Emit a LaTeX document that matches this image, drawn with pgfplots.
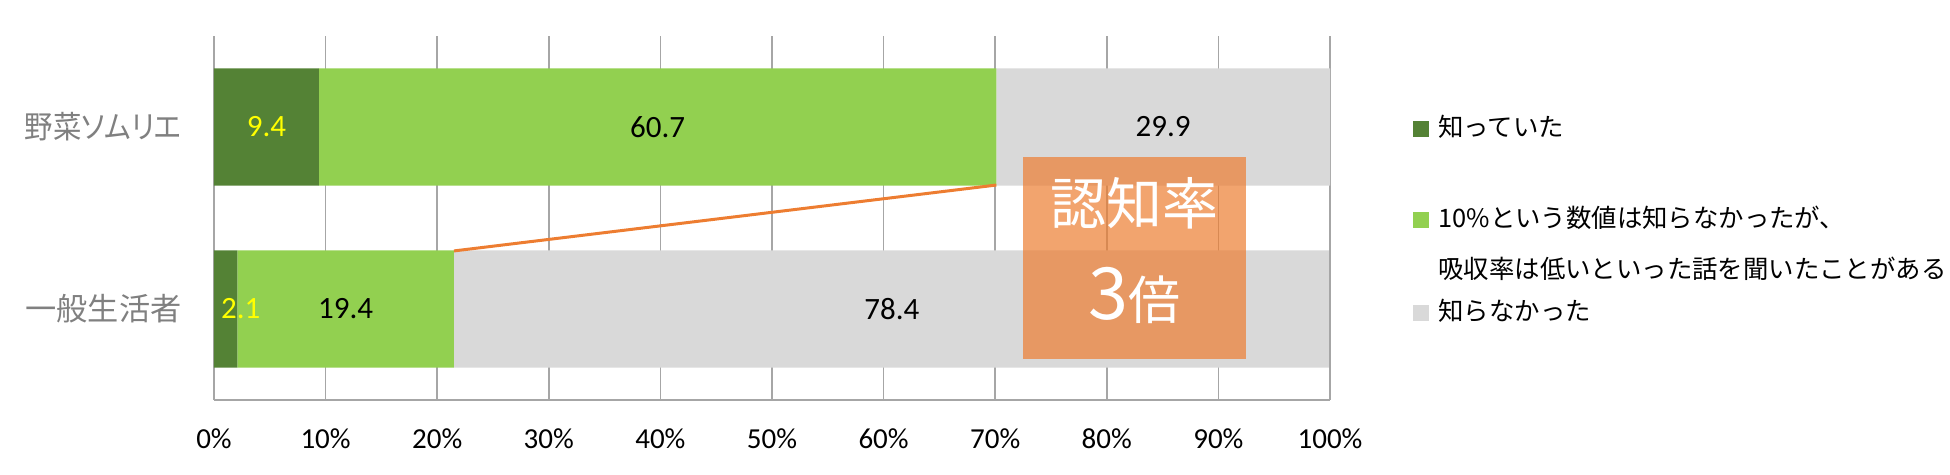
\documentclass[border=0pt]{standalone}
\usepackage{fontspec}
\usepackage{graphicx}
\usepackage{pgfplots}
\pgfplotsset{compat=1.18}
\setmainfont{Carlito}
\newfontfamily\jp{Noto Sans CJK JP}
\newfontfamily\jpp[RawFeature=+palt]{Noto Sans CJK JP}
\definecolor{dgreen}{HTML}{548235}
\definecolor{lgreen}{HTML}{92D050}
\definecolor{lgray}{HTML}{D9D9D9}
\definecolor{gridc}{HTML}{A6A6A6}
\definecolor{labgray}{HTML}{808080}
\definecolor{boxor}{HTML}{ED7D31}
\definecolor{yel}{HTML}{FFFF00}
\pgfplotsset{
  sqlegend/.style={legend image code/.code={\fill[##1] (0pt,-0.25pt) rectangle (8pt,7.75pt);}},
  common/.style={scale only axis, width=558pt, height=182pt,
    xmin=0, xmax=100, ymin=-0.5, ymax=1.5},
}
\begin{document}
\begin{tikzpicture}
\begin{axis}[common,
  xbar stacked, bar width=0.643,
  axis lines*=left,
  axis line style={draw=gridc, line width=0.8pt},
  xmajorgrids, grid style={draw=gridc, line width=0.8pt},
  tick style={draw=none},
  xtick={0,10,...,100},
  xticklabels={0\%,10\%,20\%,30\%,40\%,50\%,60\%,70\%,80\%,90\%,100\%},
  xticklabel style={font=\fontsize{14.5}{14.5}\selectfont, inner sep=0pt, anchor=north, yshift=-14pt},
  ytick={0,1},
  yticklabels={一般生活者, \scalebox{0.91}[1]{野菜ソムリエ}},
  yticklabel style={font=\jpp\fontsize{15.6}{15.6}\selectfont, text=labgray, inner sep=0pt, anchor=east, xshift=-16pt},
  legend style={at={(1.0744,0.823)}, anchor=north west, draw=none, fill=none,
    inner sep=0pt, column sep=4.5pt, row sep=0pt,
    cells={anchor=base west},
    nodes={inner sep=0pt, text depth=, text height=, anchor=base west, font=\jp\fontsize{12.7}{25.5}\selectfont}},
]
\addplot[fill=dgreen, draw=none, sqlegend] coordinates {(9.4,1) (2.1,0)};
\addlegendentry{\rule[-27.5pt]{0pt}{45.5pt}知っていた}
\addplot[fill=lgreen, draw=none, sqlegend] coordinates {(60.7,1) (19.4,0)};
\addlegendentry{{\rule[-28pt]{0pt}{46pt}\begin{tabular}[t]{@{}l@{}}10\%という数値は知らなかったが、\\吸収率は低いといった話を聞いたことがある\end{tabular}}}
\addplot[fill=lgray, draw=none, sqlegend] coordinates {(29.9,1) (78.4,0)};
\addlegendentry{\rule[-5pt]{0pt}{18pt}知らなかった}
\end{axis}
\begin{axis}[common, hide axis, clip=false]
\addplot[draw=none, mark=none, nodes near coords, point meta=explicit symbolic,
  every node near coord/.append style={anchor=center, text=yel, inner sep=0pt, font=\fontsize{15.5}{15.5}\selectfont}]
  coordinates {(4.7,1) [9.4] (2.4,0) [2.1]};
\addplot[draw=none, mark=none, nodes near coords, point meta=explicit symbolic,
  every node near coord/.append style={anchor=center, text=black, inner sep=0pt, font=\fontsize{15.5}{15.5}\selectfont}]
  coordinates {(39.75,1) [60.7] (85.05,1) [29.9] (11.8,0) [19.4] (60.75,0) [78.4]};
\addplot[draw=boxor, line width=1.5pt, mark=none] coordinates {(70.1,0.681) (21.5,0.319)};
\fill[boxor, fill opacity=0.7] (axis cs:72.49,0.835) rectangle (axis cs:92.47,-0.275);
\node[text=white, inner sep=0pt, font=\jp\fontsize{28}{28}\selectfont] at (axis cs:82.44,0.582) {認知率};
\node[text=white, inner sep=0pt, font=\jp] at (axis cs:82.44,0.077) {{\fontsize{36}{36}\selectfont 3}{\fontsize{26}{26}\selectfont 倍}};
\end{axis}
\pgfresetboundingbox
\path[use as bounding box] (-107pt,-37.5pt) rectangle (868pt,200pt);
\end{tikzpicture}
\end{document}
